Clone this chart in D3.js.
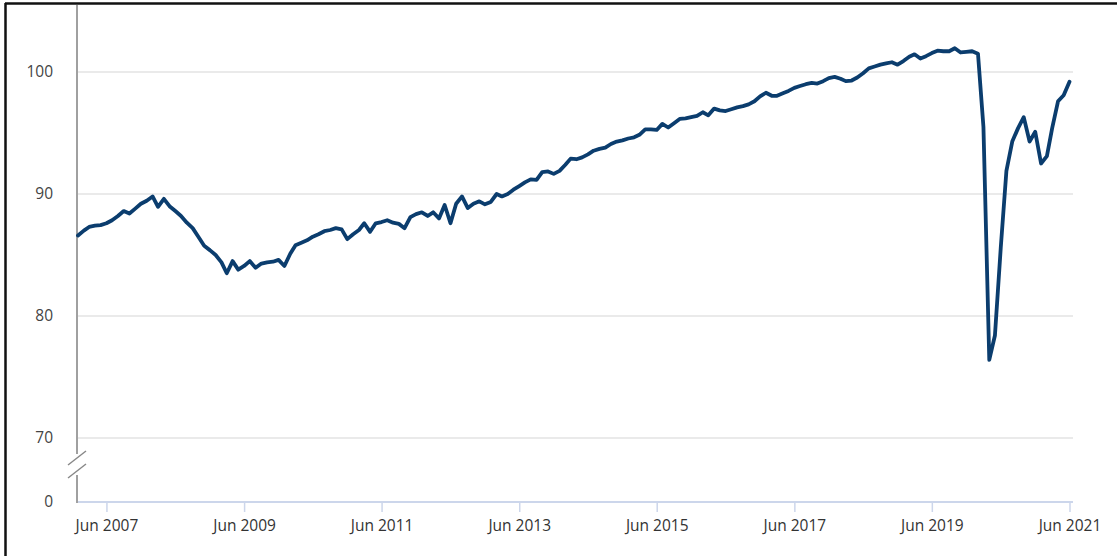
<!DOCTYPE html>
<html>
<head>
<meta charset="utf-8">
<script src="https://cdn.jsdelivr.net/npm/d3@7"></script>
<style>
  html, body { margin: 0; padding: 0; background: #fff; }
  svg { display: block; font-family: "Open Sans", "Noto Sans", sans-serif; }
</style>
</head>
<body>
<svg id="chart" width="1117" height="556"></svg>
<script>
// Monthly index, Jan 2007 .. Jun 2021
const startMonth = "2007-01";
const values = [
  86.6, 87.0, 87.3, 87.4, 87.45, 87.6, 87.85, 88.2, 88.6, 88.4, 88.8, 89.2,      // 2007
  89.45, 89.8, 88.95, 89.6, 89.0, 88.6, 88.2, 87.65, 87.2, 86.5, 85.75, 85.4,    // 2008
  85.0, 84.4, 83.5, 84.5, 83.8, 84.1, 84.5, 83.95, 84.3, 84.4, 84.45, 84.6,      // 2009
  84.1, 85.1, 85.8, 86.0, 86.2, 86.5, 86.7, 86.95, 87.05, 87.2, 87.1, 86.3,      // 2010
  86.7, 87.05, 87.6, 86.9, 87.6, 87.7, 87.85, 87.65, 87.55, 87.2, 88.1, 88.35,   // 2011
  88.5, 88.2, 88.5, 88.0, 89.1, 87.6, 89.2, 89.8, 88.85, 89.2, 89.4, 89.15,      // 2012
  89.35, 90.0, 89.8, 90.0, 90.35, 90.65, 90.95, 91.2, 91.15, 91.8, 91.85, 91.65, // 2013
  91.9, 92.4, 92.9, 92.85, 93.0, 93.25, 93.55, 93.7, 93.8, 94.1, 94.3, 94.4,     // 2014
  94.55, 94.65, 94.85, 95.3, 95.3, 95.25, 95.75, 95.45, 95.8, 96.15, 96.2, 96.3, // 2015
  96.4, 96.7, 96.45, 97.0, 96.85, 96.8, 96.95, 97.1, 97.2, 97.35, 97.6, 98.0,    // 2016
  98.3, 98.05, 98.05, 98.25, 98.45, 98.7, 98.85, 99.0, 99.1, 99.05, 99.25, 99.5, // 2017
  99.6, 99.45, 99.25, 99.3, 99.55, 99.9, 100.3, 100.45, 100.6, 100.7, 100.8, 100.6, // 2018
  100.9, 101.25, 101.45, 101.1, 101.3, 101.55, 101.75, 101.7, 101.7, 101.95, 101.6, 101.65, // 2019
  101.7, 101.5, 95.5, 76.4, 78.4, 85.6, 91.9, 94.3, 95.4, 96.3, 94.3, 95.1,      // 2020
  92.5, 93.1, 95.4, 97.6, 98.1, 99.2                                             // 2021
];
const yTicks = [0, 70, 80, 90, 100];
const xTickLabels = ["Jun 2007", "Jun 2009", "Jun 2011", "Jun 2013", "Jun 2015", "Jun 2017", "Jun 2019", "Jun 2021"];

const parseMonth = d3.timeParse("%Y-%m");
const fmt = d3.timeFormat("%b %Y");
const parseLabel = d3.timeParse("%b %Y");
const t0 = parseMonth(startMonth);
const data = values.map((v, i) => ({ date: d3.timeMonth.offset(t0, i), value: v }));

const svg = d3.select("#chart");
const plotLeft = 77, plotRight = 1073;

const x = d3.scaleTime()
  .domain([data[0].date, data[data.length - 1].date])
  .range([78, 1069.5]);

// broken axis: 0 .. 70 compressed
const y = d3.scaleLinear()
  .domain([0, 70, 100])
  .range([502, 438, 72]);

// outer frame
svg.append("line").attr("x1", 5).attr("x2", 1117).attr("y1", 3.5).attr("y2", 3.5)
  .attr("stroke", "#111").attr("stroke-width", 2.5);
svg.append("line").attr("x1", 5.5).attr("x2", 5.5).attr("y1", 3).attr("y2", 556)
  .attr("stroke", "#111").attr("stroke-width", 2.5);

// gridlines
svg.append("g").selectAll("line")
  .data(yTicks.filter(d => d > 0))
  .join("line")
  .attr("x1", plotLeft).attr("x2", plotRight)
  .attr("y1", d => y(d)).attr("y2", d => y(d))
  .attr("stroke", "#e3e3e3").attr("stroke-width", 1.5);

// y labels
svg.append("g").selectAll("text")
  .data(yTicks)
  .join("text")
  .attr("x", 53).attr("y", d => y(d))
  .attr("dy", "0.35em")
  .attr("text-anchor", "end")
  .attr("font-size", 15.5)
  .attr("fill", "#444")
  .text(d => d);

// x axis
const xTickDates = xTickLabels.map(s => parseLabel(s));
const xAxis = d3.axisBottom(x)
  .tickValues(xTickDates)
  .tickFormat(d => fmt(d))
  .tickSize(10)
  .tickSizeOuter(0)
  .tickPadding(8);
const gx = svg.append("g").attr("transform", `translate(0,${y(0)})`).call(xAxis);
gx.select(".domain").attr("d", `M${plotLeft},0H${plotRight}`).attr("stroke", "#ccd6eb").attr("stroke-width", 2);
gx.selectAll(".tick line").attr("stroke", "#ccd6eb").attr("stroke-width", 1.5);
gx.selectAll(".tick text").attr("font-size", 15.5).attr("fill", "#333")
  .attr("font-family", "\"Open Sans\", \"Noto Sans\", sans-serif");

// y axis line
svg.append("line").attr("x1", 77).attr("x2", 77).attr("y1", 5).attr("y2", y(0) + 1)
  .attr("stroke", "#a0a0a0").attr("stroke-width", 2);

// axis break marks
const yb1 = y(70) + 20, yb2 = y(70) + 33;
svg.append("rect").attr("x", 70).attr("y", yb1 - 4).attr("width", 14).attr("height", yb2 - yb1 + 8).attr("fill", "#fff");
[yb1, yb2].forEach(yy => {
  svg.append("line").attr("x1", 68).attr("x2", 86).attr("y1", yy + 7).attr("y2", yy - 7)
    .attr("stroke", "#888").attr("stroke-width", 1.5);
});

// data line
const line = d3.line().x(d => x(d.date)).y(d => y(d.value)).curve(d3.curveLinear);
svg.append("path").datum(data)
  .attr("d", line)
  .attr("fill", "none")
  .attr("stroke", "#0b3d6e")
  .attr("stroke-width", 3.8)
  .attr("stroke-linejoin", "round")
  .attr("stroke-linecap", "round");
</script>
</body>
</html>
